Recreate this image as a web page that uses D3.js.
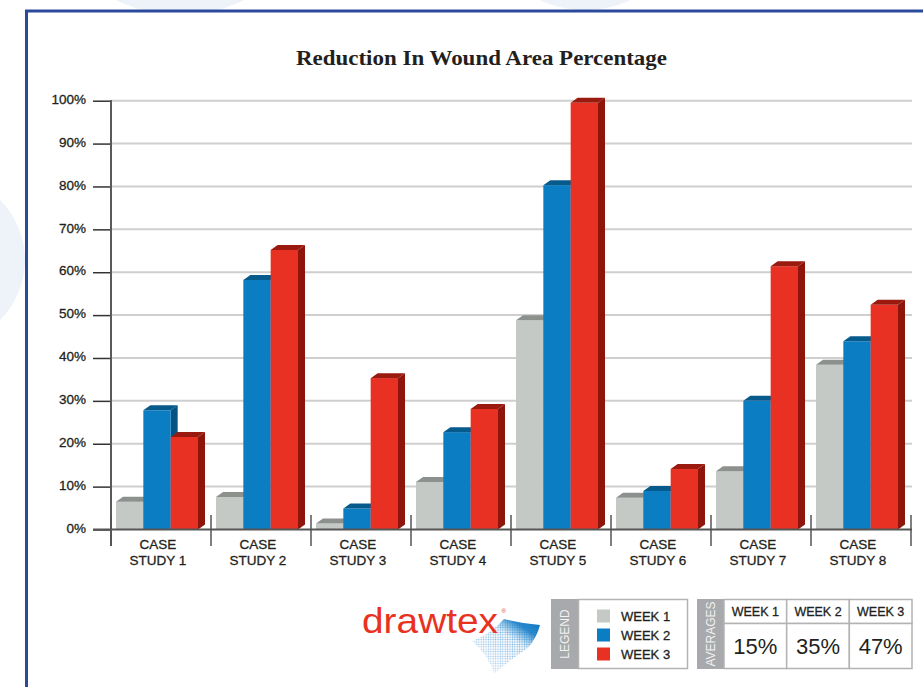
<!DOCTYPE html>
<html>
<head>
<meta charset="utf-8">
<script src="https://cdn.jsdelivr.net/npm/d3@7"></script>
<style>
  html, body { margin: 0; padding: 0; background: #fff; }
  svg { display: block; }
  text { font-family: "Liberation Sans", Arial, Helvetica, sans-serif; }
  .med { stroke: #231f20; stroke-width: 0.3px; }
</style>
</head>
<body>
<svg id="chart" width="923" height="687"></svg>
<script>
// ---- data ----
const categories = ["CASE STUDY 1", "CASE STUDY 2", "CASE STUDY 3", "CASE STUDY 4",
                    "CASE STUDY 5", "CASE STUDY 6", "CASE STUDY 7", "CASE STUDY 8"];
const weeks = ["WEEK 1", "WEEK 2", "WEEK 3"];
const week1 = [6.5, 7.6, 1.4, 11.1, 48.8, 7.4, 13.6, 38.4];
const week2 = [27.8, 58.2, 4.9, 22.7, 80.3, 9.0, 30.0, 43.9];
const week3 = [21.6, 65.2, 35.3, 28.1, 99.5, 14.1, 61.4, 52.4];
const averages = ["15%", "35%", "47%"];
const yTicks = [0, 10, 20, 30, 40, 50, 60, 70, 80, 90, 100];

const series = [week1, week2, week3];
const palette = {
  "WEEK 1": { front: "#c5c9c6", top: "#8d918e", side: "#9a9e9b" },
  "WEEK 2": { front: "#0b7dc3", top: "#075a8c", side: "#065283" },
  "WEEK 3": { front: "#e83123", top: "#9b1a0f", side: "#8e150b" }
};

const svg = d3.select("#chart");

// ---- faint background discs and frame ----
const bg = svg.append("g");
[[180, -130, 145], [585, -100, 110], [-60, 260, 85]].forEach(([cx, cy, r]) => {
  bg.append("circle").attr("cx", cx).attr("cy", cy).attr("r", r).attr("fill", "#eef3fa");
});
svg.append("rect").attr("x", 26.5).attr("y", 11).attr("width", 930).attr("height", 700)
  .attr("fill", "#fff").attr("stroke", "#2b4a9b").attr("stroke-width", 3);

// ---- title ----
svg.append("text")
  .attr("x", 296).attr("y", 65)
  .attr("textLength", 371).attr("lengthAdjust", "spacingAndGlyphs")
  .style("font-family", "'Liberation Serif', 'Times New Roman', serif")
  .style("font-weight", "bold")
  .style("font-size", "21px")
  .attr("fill", "#231f20")
  .text("Reduction In Wound Area Percentage");

// ---- scales ----
const y = d3.scaleLinear().domain([0, 100]).range([529.5, 100.7]);
const x = d3.scaleBand().domain(categories).range([111, 911]).padding(0);
const xInner = d3.scaleBand().domain(weeks).range([5, 87]).padding(0);
const depthX = 7, depthY = 5;

// ---- gridlines ----
svg.append("g").selectAll("line")
  .data(yTicks.filter(d => d > 0))
  .join("line")
  .attr("x1", 111).attr("x2", 912)
  .attr("y1", d => y(d)).attr("y2", d => y(d))
  .attr("stroke", "#cfcfcf").attr("stroke-width", 2);

// ---- y axis ----
const yAxis = svg.append("g")
  .attr("transform", "translate(110,0)")
  .call(d3.axisLeft(y).tickValues(yTicks).tickFormat(d => d + "%").tickSize(17).tickPadding(7));
yAxis.select(".domain").remove();
yAxis.selectAll(".tick line").attr("stroke", "#333").attr("stroke-width", 1.5);
yAxis.selectAll(".tick text")
  .attr("class", "med")
  .attr("dy", "0.2em")
  .style("font-size", "13.5px")
  .style("font-family", "'Liberation Sans', Arial, sans-serif")
  .attr("fill", "#231f20");

// ---- bars (3D style) ----
const barsG = svg.append("g");
categories.forEach((cat, ci) => {
  const g = barsG.append("g").attr("transform", `translate(${x(cat)},0)`);
  weeks.forEach((wk, wi) => {
    const v = series[wi][ci];
    const x0 = xInner(wk), w = xInner.bandwidth();
    const yt = y(v), yb = y(0);
    const c = palette[wk];
    // side face
    g.append("path")
      .attr("d", `M${x0 + w},${yt} L${x0 + w + depthX},${yt - depthY} L${x0 + w + depthX},${yb - depthY} L${x0 + w},${yb} Z`)
      .attr("fill", c.side);
    // front face
    g.append("rect")
      .attr("x", x0).attr("y", yt).attr("width", w).attr("height", yb - yt)
      .attr("fill", c.front);
    // top face
    g.append("path")
      .attr("d", `M${x0},${yt} L${x0 + w},${yt} L${x0 + w + depthX},${yt - depthY} L${x0 + depthX},${yt - depthY} Z`)
      .attr("fill", c.top);
  });
});

// ---- x axis: baseline, separators, labels ----
svg.append("line")
  .attr("x1", 93).attr("x2", 912).attr("y1", y(0)).attr("y2", y(0))
  .attr("stroke", "#555").attr("stroke-width", 2);
svg.append("line")
  .attr("x1", 111).attr("x2", 111).attr("y1", 100).attr("y2", 546)
  .attr("stroke", "#5a5a5a").attr("stroke-width", 2);
const seps = x.domain().map(d => x(d)).concat([x.range()[1]]);
svg.append("g").selectAll("line")
  .data(seps)
  .join("line")
  .attr("x1", d => d).attr("x2", d => d)
  .attr("y1", 515).attr("y2", 546)
  .attr("stroke", "#555").attr("stroke-width", 1.5);

const xl = svg.append("g").selectAll("text")
  .data(categories)
  .join("text")
  .attr("class", "med")
  .attr("text-anchor", "middle")
  .attr("fill", "#231f20")
  .style("font-size", "13.5px");
xl.append("tspan")
  .attr("x", d => x(d) + 47).attr("y", 549)
  .text(d => d.split(" ")[0]);
xl.append("tspan")
  .attr("x", d => x(d) + 47).attr("y", 565)
  .text(d => d.split(" ").slice(1).join(" "));

// ---- logo ----
const defs = svg.append("defs");
const pat = defs.append("pattern").attr("id", "dots")
  .attr("width", 2.4).attr("height", 2.4).attr("patternUnits", "userSpaceOnUse");
pat.append("circle").attr("cx", 1.2).attr("cy", 1.2).attr("r", 0.8).attr("fill", "#1c7cc8");
const grad = defs.append("linearGradient").attr("id", "swfade")
  .attr("x1", "1").attr("y1", "0").attr("x2", "0.2").attr("y2", "1");
grad.append("stop").attr("offset", "0").attr("stop-color", "#0a72bf").attr("stop-opacity", 1);
grad.append("stop").attr("offset", "0.22").attr("stop-color", "#1a80c9").attr("stop-opacity", 0.9);
grad.append("stop").attr("offset", "0.42").attr("stop-color", "#4aa0da").attr("stop-opacity", 0);
const maskGrad = defs.append("linearGradient").attr("id", "maskfade")
  .attr("x1", "1").attr("y1", "0").attr("x2", "0").attr("y2", "1");
maskGrad.append("stop").attr("offset", "0").attr("stop-color", "#fff");
maskGrad.append("stop").attr("offset", "1").attr("stop-color", "#222");
const swPath = "M504,619 Q520,623 540,625 Q537,637 528,648 Q510,660 494,674 Q488,655 472,641 Q492,633 504,619 Z";
defs.append("mask").attr("id", "swmask")
  .append("path").attr("d", swPath).attr("fill", "url(#maskfade)");
svg.append("path").attr("d", swPath).attr("fill", "url(#dots)").attr("mask", "url(#swmask)");
svg.append("path").attr("d", swPath).attr("fill", "url(#swfade)");

svg.append("text")
  .attr("x", 362).attr("y", 632.5)
  .attr("textLength", 136).attr("lengthAdjust", "spacingAndGlyphs")
  .style("font-size", "35px")
  .attr("fill", "#e8321f")
  .text("drawtex");
svg.append("text")
  .attr("x", 501.5).attr("y", 613)
  .style("font-size", "6px")
  .attr("fill", "#e8321f")
  .text("®");

// ---- legend ----
const leg = svg.append("g");
leg.append("rect").attr("x", 551).attr("y", 599).attr("width", 27).attr("height", 70).attr("fill", "#a7a9ac");
leg.append("rect").attr("x", 578.5).attr("y", 599.5).attr("width", 109).attr("height", 69)
  .attr("fill", "#fff").attr("stroke", "#b3b3b3").attr("stroke-width", 1.5);
leg.append("text")
  .attr("transform", "translate(569,634) rotate(-90)")
  .attr("text-anchor", "middle")
  .attr("fill", "#f2f2f2")
  .style("font-size", "12px")
  .text("LEGEND");
weeks.forEach((wk, i) => {
  leg.append("rect").attr("x", 597).attr("y", 609.5 + i * 19).attr("width", 13).attr("height", 13)
    .attr("fill", palette[wk].front);
  leg.append("text").attr("x", 621).attr("y", 621 + i * 19)
    .attr("class", "med")
    .attr("fill", "#231f20").style("font-size", "13px")
    .text(wk);
});

// ---- averages table ----
const av = svg.append("g");
av.append("rect").attr("x", 697).attr("y", 599).attr("width", 27).attr("height", 70).attr("fill", "#a7a9ac");
av.append("text")
  .attr("transform", "translate(715,634) rotate(-90)")
  .attr("text-anchor", "middle")
  .attr("fill", "#f2f2f2")
  .style("font-size", "12px")
  .text("AVERAGES");
const colX = d3.scaleBand().domain(weeks).range([724, 912]);
weeks.forEach((wk, i) => {
  const cx = colX(wk);
  av.append("rect").attr("x", cx).attr("y", 599.5).attr("width", colX.bandwidth()).attr("height", 24)
    .attr("fill", "#fff").attr("stroke", "#b3b3b3").attr("stroke-width", 1.5);
  av.append("rect").attr("x", cx).attr("y", 623.5).attr("width", colX.bandwidth()).attr("height", 45)
    .attr("fill", "#fff").attr("stroke", "#b3b3b3").attr("stroke-width", 1.5);
  av.append("text").attr("x", cx + colX.bandwidth() / 2).attr("y", 616)
    .attr("class", "med")
    .attr("text-anchor", "middle").attr("fill", "#231f20").style("font-size", "12.5px")
    .text(wk);
  av.append("text").attr("x", cx + colX.bandwidth() / 2).attr("y", 654)
    .attr("text-anchor", "middle").attr("fill", "#231f20").style("font-size", "22px")
    .text(averages[i]);
});
</script>
</body>
</html>
